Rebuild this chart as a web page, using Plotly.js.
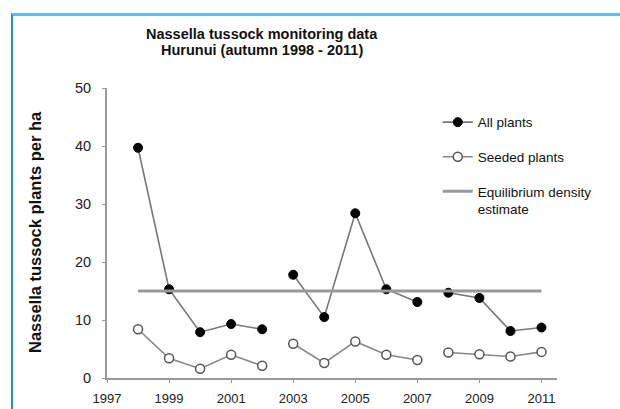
<!DOCTYPE html>
<html>
<head>
<meta charset="utf-8">
<script src="https://cdn.plot.ly/plotly-3.0.1.min.js"></script>
<style>
  html, body { margin: 0; padding: 0; background: #fff; }
  #chart { width: 620px; height: 409px; position: absolute; left: 0; top: 0; }
  #frame { position: absolute; left: 11px; top: 13px; width: 620px; height: 420px;
           border-top: 3px solid #5cbcf0; border-left: 2px solid #1e90dc;
           pointer-events: none; box-sizing: border-box; }
</style>
</head>
<body>
<div id="chart"></div>
<div id="frame"></div>
<script>
// Data
const years = [1998, 1999, 2000, 2001, 2002, 2003, 2004, 2005, 2006, 2007, 2008, 2009, 2010, 2011];
const allPlants = [39.7, 15.3, 7.9, 9.3, 8.4, 17.8, 10.5, 28.4, 15.3, 13.1, 14.7, 13.8, 8.1, 8.7];
const seededPlants = [8.4, 3.4, 1.6, 4.0, 2.1, 5.9, 2.6, 6.3, 4.0, 3.1, 4.4, 4.1, 3.7, 4.5];
const breakAfter = [2002, 2007];          // lines are not joined across these years
const equilibriumYears = [1998, 2011];
const equilibriumDensity = [15, 15];
const xTickVals = [1997, 1999, 2001, 2003, 2005, 2007, 2009, 2011];
const yTickVals = [0, 10, 20, 30, 40, 50];
const titleLines = ['Nassella tussock monitoring data', 'Hurunui (autumn 1998 - 2011)'];
const yTitle = 'Nassella tussock plants per ha';

function withBreaks(xs, ys) {
  const ox = [], oy = [];
  xs.forEach((x, i) => {
    ox.push(x); oy.push(ys[i]);
    if (breakAfter.includes(x) && i < xs.length - 1) { ox.push(null); oy.push(null); }
  });
  return { x: ox, y: oy };
}

const a = withBreaks(years, allPlants);
const s = withBreaks(years, seededPlants);
const font = 'Liberation Sans, Arial, sans-serif';

const traces = [
  {
    x: a.x, y: a.y, name: 'All plants', type: 'scatter', mode: 'lines+markers',
    connectgaps: false, legendgroup: 'a',
    line: { color: '#777', width: 1.6 },
    marker: { color: '#000', size: 9, line: { color: '#000', width: 1 } }
  },
  {
    x: s.x, y: s.y, name: 'Seeded plants', type: 'scatter', mode: 'lines+markers',
    connectgaps: false, legendgroup: 's',
    line: { color: '#888', width: 1.6 },
    marker: { color: '#fff', size: 9, line: { color: '#555', width: 1.5 } }
  },
  {
    x: equilibriumYears, y: equilibriumDensity, name: 'Equilibrium density<br>estimate',
    type: 'scatter', mode: 'lines', legendgroup: 'e',
    line: { color: '#999', width: 3 }
  }
];

const axisCommon = {
  showgrid: false, zeroline: false, showline: true, linecolor: '#999', linewidth: 2,
  ticks: 'outside', ticklen: 3, tickcolor: '#999', tickwidth: 1
};

const layout = {
  width: 620, height: 409,
  margin: { l: 107, r: 63, t: 88, b: 31 },
  paper_bgcolor: '#fff', plot_bgcolor: '#fff',
  showlegend: true,
  xaxis: Object.assign({}, axisCommon, {
    range: [1997, 2011.5], tickvals: xTickVals, ticklabelstandoff: 4,
    tickfont: { family: font, size: 13, color: '#222' }
  }),
  yaxis: Object.assign({}, axisCommon, {
    range: [0, 50], tickvals: yTickVals, ticklabelstandoff: 8,
    tickfont: { family: font, size: 14.5, color: '#222' }
  }),
  annotations: [
    { text: '<b>' + titleLines[0] + '</b>', xref: 'paper', yref: 'paper',
      x: 0.344, y: (378 - 34) / 290, xanchor: 'center', yanchor: 'middle', showarrow: false,
      font: { family: font, size: 14.5, color: '#111' } },
    { text: '<b>' + titleLines[1] + '</b>', xref: 'paper', yref: 'paper',
      x: 0.344, y: (378 - 50) / 290, xanchor: 'center', yanchor: 'middle', showarrow: false,
      font: { family: font, size: 14.5, color: '#111' } },
    { text: '<b>' + yTitle + '</b>', xref: 'paper', yref: 'paper', textangle: -90,
      x: (35 - 107) / 450, y: (378 - 232) / 290, xanchor: 'center', yanchor: 'middle',
      showarrow: false, font: { family: font, size: 16.5, color: '#111' } }
  ],
  legend: {
    x: 0.735, y: 0.935, xanchor: 'left', yanchor: 'top',
    bgcolor: 'rgba(0,0,0,0)', valign: 'top',
    font: { family: font, size: 13.5, color: '#111' },
    traceorder: 'grouped', tracegroupgap: 14
  }
};

Plotly.newPlot('chart', traces, layout, { displayModeBar: false, staticPlot: true });
</script>
</body>
</html>
